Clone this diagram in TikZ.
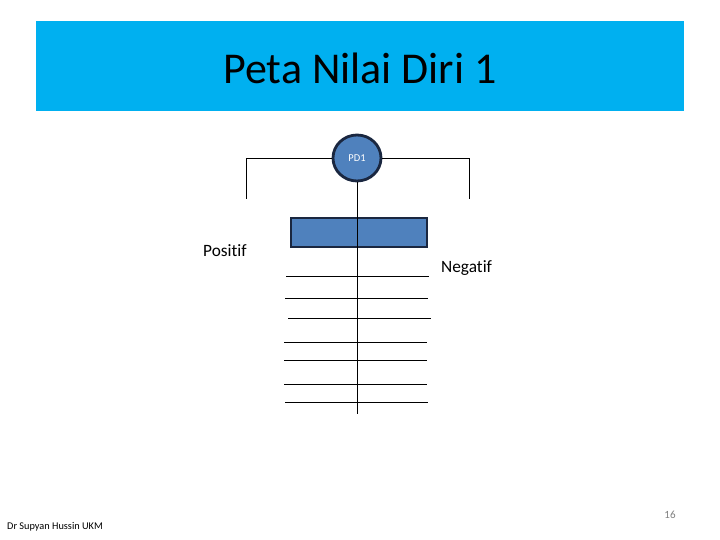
\documentclass[tikz,border=0pt]{standalone}
\usepackage{fontspec}
\usetikzlibrary{shapes.geometric}
\setmainfont[Ligatures=NoCommon]{Carlito}
\definecolor{banner}{HTML}{00B0F0}
\definecolor{nodefill}{HTML}{4F81BD}
\definecolor{nodeedge}{HTML}{1A2740}
\begin{document}
\begin{tikzpicture}[x=1pt,y=-1pt,
  line/.style={draw=black,line width=0.9pt},
  shapeedge/.style={draw=nodeedge,line width=2.8pt,fill=nodefill},
  lbl/.style={inner sep=0pt,font=\fontsize{17.3}{19}\selectfont}]
\useasboundingbox (0,0) rectangle (720,540);
\fill[white] (0,0) rectangle (720,540);
% banner
\fill[banner] (36,21) rectangle (684,111);
\node[inner sep=0pt,font=\fontsize{44}{50}\selectfont] (title) at (360,68) {Peta Nilai Diri 1};
% circle
\node[shapeedge,ellipse,minimum width=48pt,minimum height=46pt,inner sep=0pt,
      font=\fontsize{10.5}{12}\selectfont,text=white] (pd) at (357,158) {PD1};
% bracket
\coordinate (bl) at (246,199);
\coordinate (br) at (469,199);
\draw[line] (pd.west) -- (246,158) -- (bl);
\draw[line] (pd.east) -- (469,158) -- (br);
% box
\node[shapeedge,rectangle,minimum width=136pt,minimum height=29pt,inner sep=0pt] (box) at (359,232.5) {};
% horizontal lines
\foreach \y/\a/\b [count=\i] in {276/286/429,298/285/428,318/288/431,342/284/427,360/284/427,384/284/427,402/285/428}{
  \coordinate (l\i) at (\a,\y);
  \coordinate (r\i) at (\b,\y);
  \draw[line] (l\i) -- (r\i);
}
% vertical stem
\coordinate (stemend) at (357,414);
\draw[line] (pd.south) -- (stemend);
% labels
\node[lbl,anchor=west] (pos) at (203,251) {Positif};
\node[lbl,anchor=west] (neg) at (441,268) {Negatif};
\node[inner sep=0pt,anchor=west,font=\fontsize{10.3}{11}\selectfont] (foot) at (7,527) {Dr Supyan Hussin UKM};
\node[inner sep=0pt,text=gray,font=\fontsize{11}{12}\selectfont] (pg) at (670,515) {16};
\end{tikzpicture}
\end{document}
